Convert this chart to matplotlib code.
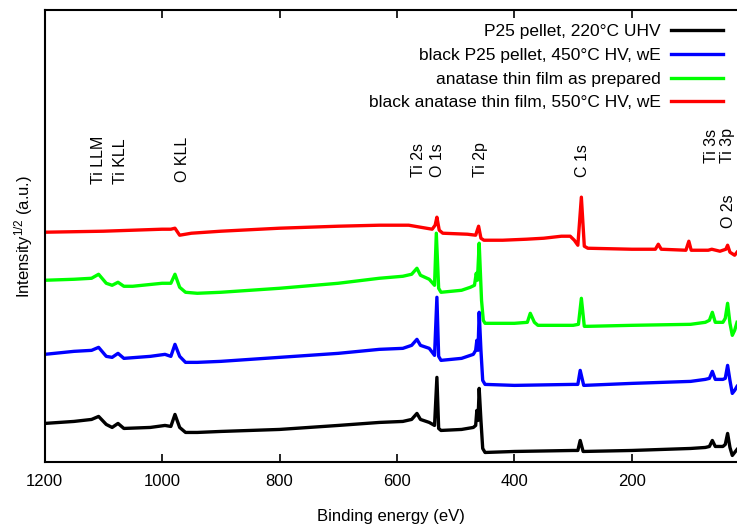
import numpy as np
from matplotlib import pyplot as plt

plt.rcParams['font.family'] = ['Liberation Sans', 'DejaVu Sans']
plt.rcParams['mathtext.default'] = 'regular'

# survey spectra, binding energy (eV) vs sqrt intensity (a.u., offset for display)
e_black = [1200, 1150, 1120, 1108, 1095, 1085, 1075, 1065, 1020, 995, 985, 978, 970, 960,
           940, 900, 800, 700, 630, 590, 575, 566, 560, 545, 536, 532, 529, 525, 490, 470,
           466, 464, 462, 460, 457, 454, 450, 400, 300, 292, 288, 283, 200, 100, 75, 68,
           63, 58, 45, 41, 37, 33, 29, 25, 21]
i_black = [39, 41, 43, 46, 38, 35, 39, 34, 35, 37, 36, 48, 35, 30,
           30, 31, 33, 37, 40, 41, 43, 49, 43, 40, 37, 85, 34, 32, 33, 35,
           37, 52, 42, 74, 42, 14, 10, 11, 12, 12, 22, 11, 12, 14, 15, 16,
           22, 16, 16, 18, 29, 15, 7, 10, 13]

e_blue = [1200, 1150, 1120, 1108, 1095, 1085, 1075, 1065, 1020, 995, 985, 978, 970, 960,
          940, 900, 800, 700, 630, 590, 575, 566, 560, 545, 536, 532, 529, 525, 490, 470,
          466, 464, 462, 460, 457, 454, 450, 400, 300, 292, 288, 282, 200, 100, 75, 68,
          63, 58, 45, 41, 37, 33, 29, 25, 21]
i_blue = [108, 111, 112, 115, 106, 105, 109, 104, 106, 108, 106, 118, 106, 100,
          100, 101, 105, 109, 113, 114, 117, 123, 117, 114, 107, 165, 106, 102, 104, 108,
          112, 122, 112, 150, 112, 82, 78, 77, 78, 78, 92, 77, 79, 81, 83, 84,
          91, 83, 83, 84, 97, 82, 69, 72, 76]

e_green = [1200, 1150, 1120, 1108, 1095, 1085, 1075, 1065, 1050, 1000, 985, 978, 970, 960,
           940, 900, 800, 700, 630, 590, 575, 566, 560, 545, 536, 533, 529, 525, 490, 475,
           468, 465, 463, 460, 456, 453, 450, 400, 378, 373, 366, 360, 300, 291, 286, 281,
           275, 200, 100, 75, 68, 63, 58, 45, 41, 37, 33, 29, 25, 21]
i_green = [182, 183, 184, 188, 179, 177, 180, 176, 176, 179, 179, 188, 175, 170,
           169, 170, 174, 179, 184, 186, 188, 194, 187, 183, 177, 229, 174, 170, 172, 175,
           177, 189, 182, 219, 162, 142, 139, 139, 140, 149, 140, 137, 137, 138, 164, 136,
           136, 137, 138, 140, 142, 150, 140, 140, 144, 159, 139, 127, 132, 140]

e_red = [1200, 1100, 1000, 985, 978, 970, 950, 900, 800, 700, 630, 580, 560, 540, 535,
         532, 528, 522, 480, 466, 461, 457, 452, 420, 380, 350, 320, 305, 298, 292, 286,
         281, 275, 200, 160, 155, 150, 108, 103, 99, 70, 64, 50, 40, 37, 33, 25, 21]
i_red = [230, 231, 233, 233, 234, 227, 229, 231, 234, 236, 237, 237, 235, 233, 237,
         245, 232, 229, 228, 227, 236, 224, 222, 222, 223, 224, 226, 226, 222, 217, 265,
         216, 214, 213, 213, 218, 213, 212, 221, 212, 212, 213, 211, 213, 217, 210, 207, 210]

series = [
    (e_black, i_black, '#000000', 'P25 pellet, 220\u00b0C UHV'),
    (e_blue, i_blue, '#0000ff', 'black P25 pellet, 450\u00b0C HV, wE'),
    (e_green, i_green, '#00ff00', 'anatase thin film as prepared'),
    (e_red, i_red, '#ff0000', 'black anatase thin film, 550\u00b0C HV, wE'),
]

# peak labels: (text, energy, bottom of text in a.u.)
peak_labels = [
    ('Ti LLM', 1109, 278), ('Ti KLL', 1070, 278), ('O KLL', 966, 280),
    ('Ti 2s', 564, 285), ('O 1s', 531, 285), ('Ti 2p', 458, 285),
    ('C 1s', 284, 285), ('Ti 3s', 64, 299), ('Ti 3p', 37, 299), ('O 2s', 35, 234),
]

fig = plt.figure(figsize=(7.37, 5.24), dpi=100)
ax = fig.add_axes([0.0605, 0.1174, 0.9395, 0.8636])

for e, inten, col, lab in series:
    ax.plot(e, inten, color=col, lw=2.4, label=lab)

for txt, e, y in peak_labels:
    ax.text(e, y, txt, rotation=90, ha='center', va='bottom', fontsize=11.5,
            clip_on=False)

ax.set_xlim(1200, 21)
ax.set_ylim(0, 452)
ax.set_xticks([1200, 1000, 800, 600, 400, 200])
ax.set_yticks([])
ax.tick_params(axis='x', direction='in', top=True, length=6, width=1.2,
               labelsize=12, pad=8)
for side in ['left', 'bottom', 'top']:
    ax.spines[side].set_linewidth(1.5)
ax.spines['right'].set_visible(False)

ax.set_xlabel('Binding energy (eV)', fontsize=12)
ax.xaxis.set_label_coords(0.5, -0.102)
ax.set_ylabel(r'Intensity$^{1/2}$ (a.u.)', fontsize=12)
ax.yaxis.set_label_coords(-0.014, 0.5)

ax.legend(loc='upper right', markerfirst=False, frameon=False, fontsize=12.5,
          handlelength=3.0, handletextpad=0.6, labelspacing=0.5,
          borderaxespad=0.5, borderpad=0.3)

fig.savefig('out.png', dpi=100)
